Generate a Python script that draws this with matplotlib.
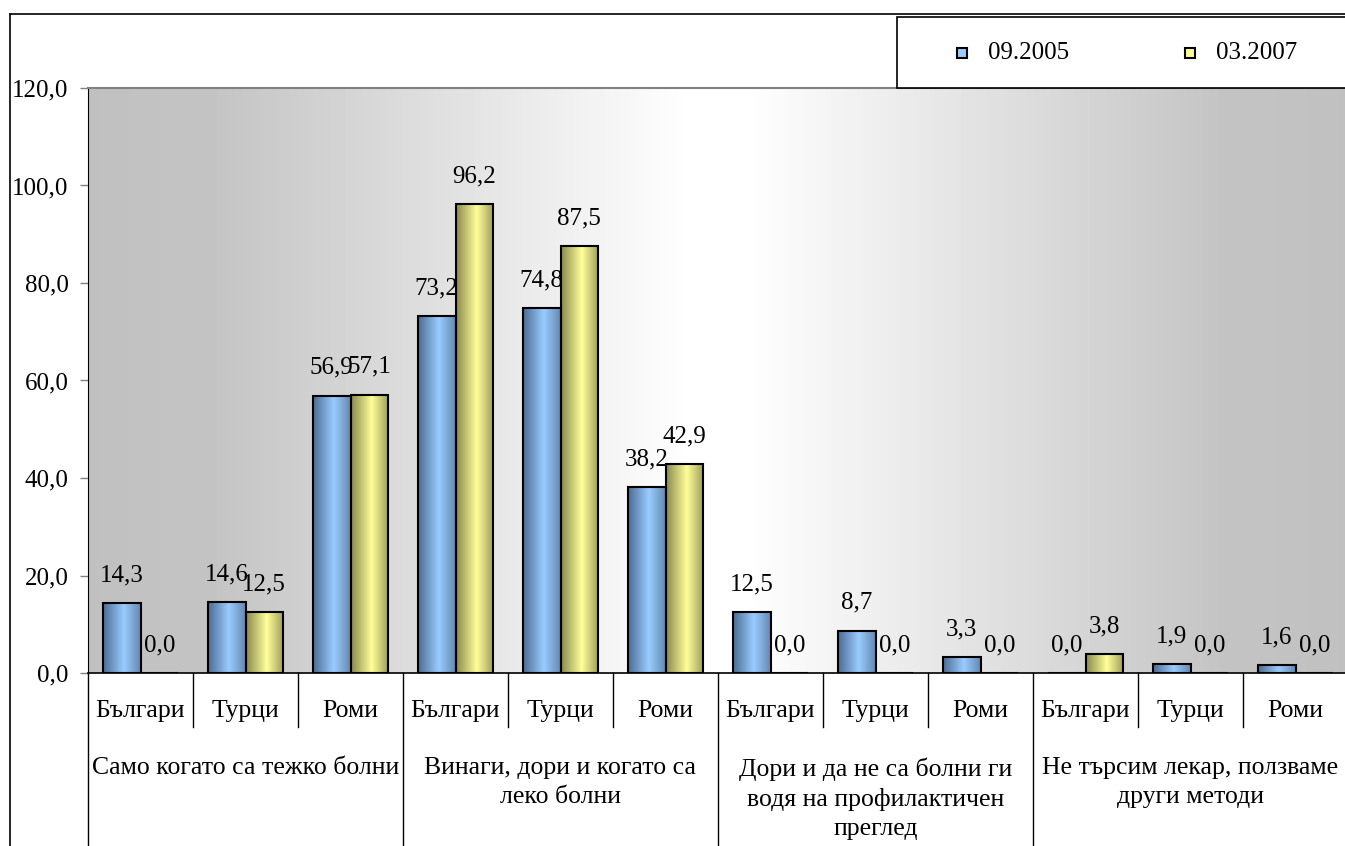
import matplotlib
matplotlib.use('Agg')
import matplotlib.pyplot as plt
import numpy as np
from matplotlib.colors import LinearSegmentedColormap
from matplotlib.lines import Line2D
from matplotlib.patches import Rectangle

plt.rcParams['font.family'] = ['Liberation Serif', 'DejaVu Serif']
plt.rcParams['font.size'] = 18

# data
subgroups = ['Българи', 'Турци', 'Роми'] * 4
groups = ['Само когато са тежко болни',
          'Винаги, дори и когато са\nлеко болни',
          'Дори и да не са болни ги\nводя на профилактичен\nпреглед',
          'Не търсим лекар, ползваме\nдруги методи']
series_names = ['09.2005', '03.2007']
s2005 = [14.3, 14.6, 56.9, 73.2, 74.8, 38.2, 12.5, 8.7, 3.3, 0.0, 1.9, 1.6]
s2007 = [0.0, 12.5, 57.1, 96.2, 87.5, 42.9, 0.0, 0.0, 0.0, 3.8, 0.0, 0.0]

W, H = 1345, 846
fig = plt.figure(figsize=(W / 100, H / 100), dpi=100)
fig.patch.set_facecolor('white')

# plot area in pixels: left 88, top 88, bottom 673, 12 slots of 105 px
left, top, bottom = 88, 88, 673
pw = 12 * 105
ax = fig.add_axes([left / W, (H - bottom) / H, pw / W, (bottom - top) / H])

# background gradient (gray - white - gray)
bg = np.interp(np.linspace(0, 1, 400), [0, 0.1, 0.48, 0.52, 0.9, 1],
               [192, 196, 255, 255, 196, 192]) / 255
ax.imshow(np.tile(bg, (2, 1)), cmap='gray', vmin=0, vmax=1, extent=[0, 12, 0, 120],
          aspect='auto', zorder=0)

blue_cmap = LinearSegmentedColormap.from_list(
    'b', [(0, '#4c6c94'), (0.55, '#99ccff'), (1, '#6688b0')])
yel_cmap = LinearSegmentedColormap.from_list(
    'y', [(0, '#8a8a4e'), (0.55, '#ffff99'), (1, '#9c9c5c')])
ramp = np.tile(np.linspace(0, 1, 100), (2, 1))

x = np.arange(12) + 0.5
bw = 37.5 / 105
for vals, off, cmap in [(s2005, -bw / 2, blue_cmap), (s2007, bw / 2, yel_cmap)]:
    bars = ax.bar(x + off, vals, width=bw, facecolor='none', edgecolor='black',
                  linewidth=1.5, zorder=3)
    for b, v in zip(bars, vals):
        if v > 0:
            im = ax.imshow(ramp, cmap=cmap, extent=[b.get_x(), b.get_x() + bw, 0, v],
                           aspect='auto', zorder=2)
            im.set_clip_path(b)
        ax.annotate(f'{v:.1f}'.replace('.', ','), (b.get_x() + bw / 2, v),
                    xytext=(0, 20), textcoords='offset points',
                    ha='center', va='center', zorder=4)

ax.set_xlim(0, 12)
ax.set_ylim(0, 120)
ax.set_yticks(np.arange(0, 121, 20))
ax.set_yticklabels([f'{t:.1f}'.replace('.', ',') for t in np.arange(0, 121, 20)])
ax.tick_params(axis='y', length=6, width=1, color='#808080', pad=8)
ax.set_xticks([])
ax.spines['right'].set_visible(False)
ax.spines['top'].set_color('#808080')
ax.spines['top'].set_linewidth(1.5)
ax.spines['left'].set_color('black')
ax.spines['bottom'].set_color('black')
ax.spines['bottom'].set_linewidth(1.2)

# category axis labels
tr = ax.get_xaxis_transform()
ph = bottom - top
for xi, lab in zip(x, subgroups):
    ax.text(xi, -38 / ph, lab, transform=tr, ha='center', va='center', fontsize=18.5)
for gi, lab in enumerate(groups):
    ax.text(gi * 3 + 1.5, -84 / ph, lab, transform=tr, ha='center', va='top',
            linespacing=1.4, fontsize=18.5)
for k in range(13):
    y2 = -(H - bottom + 5) / ph if k % 3 == 0 else -54 / ph
    ax.add_line(Line2D([k, k], [0, y2], transform=tr, color='black', lw=1,
                       clip_on=False))

# outer chart border
fig.add_artist(Line2D([10 / W, 10 / W], [0, 1 - 14 / H], color='black', lw=1.2))
fig.add_artist(Line2D([10 / W, 1], [1 - 14 / H, 1 - 14 / H], color='black', lw=1.2))

# legend box
fig.add_artist(Rectangle((897 / W, 1 - 88 / H), (W + 10 - 897) / W, 71 / H,
                         facecolor='white', edgecolor='black', lw=1.2,
                         transform=fig.transFigure))
ly = 1 - 53 / H
for mx, col, name in [(962, '#99ccff', series_names[0]), (1190, '#ffff99', series_names[1])]:
    fig.add_artist(Rectangle(((mx - 5) / W, ly - 5 / H), 10 / W, 10 / H,
                             facecolor=col, edgecolor='black', lw=1.5,
                             transform=fig.transFigure))
    fig.text((mx + 26) / W, ly, name, ha='left', va='center')

fig.savefig('out.png', dpi=100)
